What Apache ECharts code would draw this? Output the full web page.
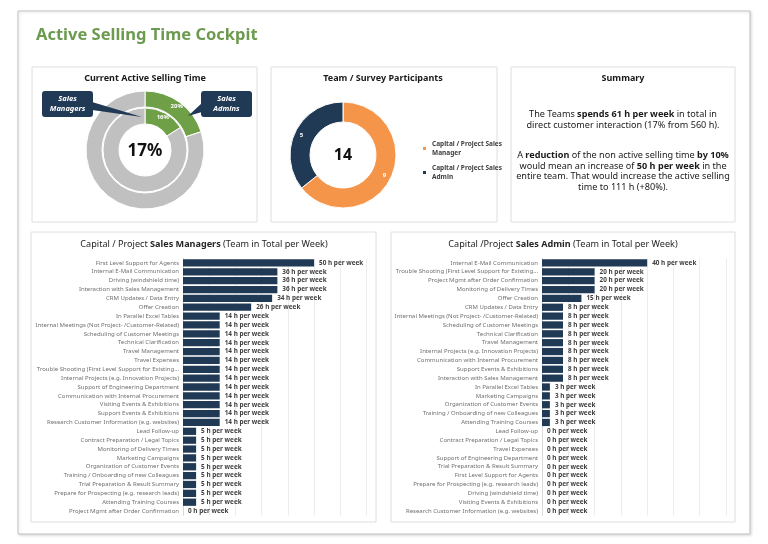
<!DOCTYPE html>
<html>
<head>
<meta charset="utf-8">
<script src="https://cdn.jsdelivr.net/npm/echarts@6/dist/echarts.min.js"></script>
<style>
html,body{margin:0;padding:0;background:#fff;}
#main{width:768px;height:544px;}
</style>
</head>
<body>
<div id="main"></div>
<script>
// ---------- DATA ----------
const pageTitle = 'Active Selling Time Cockpit';
const activeOverall = '17%';
const ringAdmins = [20, 80];     // outer ring: active %, rest
const ringManagers = [16, 84];   // inner ring: active %, rest
const participantNames = ['Capital / Project Sales Manager', 'Capital / Project Sales Admin'];
const participantCounts = [9, 5];
const participantTotal = '14';

const managerCats = [
  'First Level Support for Agents','Internal E-Mail Communication','Driving (windshield time)',
  'Interaction with Sales Management','CRM Updates / Data Entry','Offer Creation',
  'In Parallel Excel Tables','Internal Meetings (Not Project- /Customer-Related)',
  'Scheduling of Customer Meetings','Technical Clarification','Travel Management',
  'Travel Expenses','Trouble Shooting (First Level Support for Existing...',
  'Internal Projects (e.g. Innovation Projects)','Support of Engineering Department',
  'Communication with Internal Procurement','Visiting Events & Exhibitions',
  'Support Events & Exhibitions','Research Customer Information (e.g. websites)',
  'Lead Follow-up','Contract Preparation / Legal Topics','Monitoring of Delivery Times',
  'Marketing Campaigns','Organization of Customer Events','Training / Onboarding of new Colleagues',
  'Trial Preparation & Result Summary','Prepare for Prospecting (e.g. research leads)',
  'Attending Training Courses','Project Mgmt after Order Confirmation'
];
const managerHours = [50,36,36,36,34,26,14,14,14,14,14,14,14,14,14,14,14,14,14,5,5,5,5,5,5,5,5,5,0];

const adminCats = [
  'Internal E-Mail Communication','Trouble Shooting (First Level Support for Existing...',
  'Project Mgmt after Order Confirmation','Monitoring of Delivery Times','Offer Creation',
  'CRM Updates / Data Entry','Internal Meetings (Not Project- /Customer-Related)',
  'Scheduling of Customer Meetings','Technical Clarification','Travel Management',
  'Internal Projects (e.g. Innovation Projects)','Communication with Internal Procurement',
  'Support Events & Exhibitions','Interaction with Sales Management','In Parallel Excel Tables',
  'Marketing Campaigns','Organization of Customer Events','Training / Onboarding of new Colleagues',
  'Attending Training Courses','Lead Follow-up','Contract Preparation / Legal Topics',
  'Travel Expenses','Support of Engineering Department','Trial Preparation & Result Summary',
  'First Level Support for Agents','Prepare for Prospecting (e.g. research leads)',
  'Driving (windshield time)','Visiting Events & Exhibitions','Research Customer Information (e.g. websites)'
];
const adminHours = [40,20,20,20,15,8,8,8,8,8,8,8,8,8,3,3,3,3,3,0,0,0,0,0,0,0,0,0,0];

const xMax = 70, xStep = 10;

// ---------- STYLE ----------
const FONT = '"Noto Sans", "Open Sans", sans-serif';
const GREEN = '#6f9f47';
const TITLE_GREEN = '#6c9a4f';
const GRAY = '#c0c0c0';
const NAVY = '#203a56';
const ORANGE = '#f5954a';

const chart = echarts.init(document.getElementById('main'), null, {renderer:'canvas'});

function panel(x, y, w, h) {
  return {type:'rect', shape:{x:x, y:y, width:w, height:h},
    style:{fill:'#fff', stroke:'#dedede', lineWidth:1}, z:-5};
}
function txt(x, y, text, opt) {
  return {type:'text', x:x, y:y, z:10, style:Object.assign({text:text, font:'bold 9px ' + FONT,
    fill:'#1a1a1a', textAlign:'center', textVerticalAlign:'middle'}, opt || {})};
}
function callout(bx, by, bw, bh, tri, label) {
  return [
    {type:'polygon', z:20, shape:{points:tri}, style:{fill:NAVY}},
    {type:'rect', z:20, shape:{x:bx, y:by, width:bw, height:bh, r:3}, style:{fill:NAVY}},
    {type:'text', z:21, x:bx + bw/2, y:by + bh/2, style:{text:label, fill:'#fff',
      font:'italic bold 7.5px ' + FONT, textAlign:'center', textVerticalAlign:'middle', lineHeight:10}}
  ];
}
function richPara(x, y, text) {
  return {type:'text', x:x, y:y, z:10, style:{
    text:text, textAlign:'center', textVerticalAlign:'middle', fill:'#1a1a1a',
    rich:{
      n:{font:'9.1px ' + FONT, fill:'#1a1a1a', lineHeight:10.8},
      b:{font:'bold 9.1px ' + FONT, fill:'#1a1a1a', lineHeight:10.8}
    }}};
}

const labelPct = function(p){ return p.dataIndex === 0 ? p.value + '%' : ''; };
function barLabel(p){ return p.value + ' h per week'; }

const graphics = [
  {type:'rect', shape:{x:18, y:11, width:732, height:523}, z:-10,
    style:{fill:'#fff', stroke:'#c4c4c4', lineWidth:1, shadowBlur:3, shadowColor:'rgba(0,0,0,0.15)', shadowOffsetX:1, shadowOffsetY:1}},
  panel(32, 67, 225, 155),
  panel(271, 67, 226, 155),
  panel(511, 67, 224, 155),
  panel(31, 232, 345, 290),
  panel(391, 232, 344, 290),
  txt(36, 35, pageTitle, {font:'bold 16.5px ' + FONT, fill:TITLE_GREEN, textAlign:'left'}),
  txt(145, 78, 'Current Active Selling Time'),
  txt(383, 78, 'Team / Survey Participants'),
  txt(623, 78, 'Summary'),
  txt(145, 151, activeOverall, {font:'bold 17px ' + FONT, fill:'#111'}),
  txt(343, 155, participantTotal, {font:'bold 16px ' + FONT, fill:'#111'}),
  richPara(623, 120,
    '{n|The Teams }{b|spends 61 h per week}{n| in total in}\n' +
    '{n|direct customer interaction (17% from 560 h).}'),
  richPara(623, 171.5,
    '{n|A }{b|reduction}{n| of the non active selling time }{b|by 10%}\n' +
    '{n|would mean an increase of }{b|50 h per week}{n| in the}\n' +
    '{n|entire team. That would increase the active selling}\n' +
    '{n|time to 111 h (+80%).}'),
  {type:'text', x:204, y:244, z:10, style:{
    text:'{n|Capital / Project }{b|Sales Managers}{n| (Team in Total per Week)}',
    textAlign:'center', textVerticalAlign:'middle',
    rich:{n:{font:'9.1px ' + FONT, fill:'#262626'}, b:{font:'bold 9.1px ' + FONT, fill:'#262626'}}}},
  {type:'text', x:563, y:244, z:10, style:{
    text:'{n|Capital /Project }{b|Sales Admin}{n| (Team in Total per Week)}',
    textAlign:'center', textVerticalAlign:'middle',
    rich:{n:{font:'9.1px ' + FONT, fill:'#262626'}, b:{font:'bold 9.1px ' + FONT, fill:'#262626'}}}}
].concat(
  callout(42, 91, 51, 26, [[92,102],[92,110],[142,117]], 'Sales\nManagers'),
  callout(201, 91, 51, 26, [[202,103],[202,112],[188,116]], 'Sales\nAdmins')
);

function barAxes(idx, cats) {
  return {
    x: {gridIndex:idx, type:'value', min:0, max:xMax, interval:xStep,
      axisLabel:{show:false}, axisLine:{show:false}, axisTick:{show:false},
      splitLine:{show:true, lineStyle:{color:'#ececec', width:1}}},
    y: {gridIndex:idx, type:'category', data:cats, inverse:true,
      axisTick:{show:false}, axisLine:{show:true, lineStyle:{color:'#d9d9d9'}},
      axisLabel:{fontSize:6, color:'#707070', fontFamily:FONT, margin:4}}
  };
}
const a0 = barAxes(0, managerCats), a1 = barAxes(1, adminCats);

function barSeries(idx, vals) {
  return {type:'bar', xAxisIndex:idx, yAxisIndex:idx, data:vals, barCategoryGap:'18%',
    itemStyle:{color:NAVY}, silent:true,
    label:{show:true, position:'right', distance:5, formatter:barLabel,
      fontSize:6.4, fontWeight:'bold', color:'#3f3f3f', fontFamily:FONT}};
}

const option = {
  animation:false,
  textStyle:{fontFamily:FONT},
  grid:[
    {left:183, width:183.5, top:258.5, height:257, containLabel:false},
    {left:542, width:184, top:258.5, height:257, containLabel:false}
  ],
  xAxis:[a0.x, a1.x],
  yAxis:[a0.y, a1.y],
  legend:{
    orient:'vertical', left:416, top:134, itemWidth:5, itemHeight:5, itemGap:5,
    icon:'rect', data:participantNames,
    formatter:function(n){ return n.replace(' Sales ', ' Sales\n'); },
    textStyle:{fontSize:6.5, color:'#404040', fontFamily:FONT, lineHeight:9.5, fontWeight:'bold'}
  },
  series:[
    {type:'pie', name:'admins', center:[145,150], radius:[43,59], startAngle:90, silent:true,
      itemStyle:{borderColor:'#fff', borderWidth:1},
      label:{show:true, position:'inside', formatter:labelPct, color:'#fff', fontSize:6, fontWeight:'bold'},
      labelLine:{show:false},
      data:[{value:ringAdmins[0], itemStyle:{color:GREEN}}, {value:ringAdmins[1], itemStyle:{color:GRAY}}]},
    {type:'pie', name:'managers', center:[145,150], radius:[26,42], startAngle:90, silent:true,
      itemStyle:{borderColor:'#fff', borderWidth:1},
      label:{show:true, position:'inside', formatter:labelPct, color:'#fff', fontSize:6, fontWeight:'bold'},
      labelLine:{show:false},
      data:[{value:ringManagers[0], itemStyle:{color:GREEN}}, {value:ringManagers[1], itemStyle:{color:GRAY}}]},
    {type:'pie', name:'participants', center:[343,155], radius:[33,53], startAngle:90, silent:true,
      itemStyle:{borderColor:'#fff', borderWidth:1},
      label:{show:true, position:'inside', formatter:'{c}', color:'#fff', fontSize:6, fontWeight:'bold'},
      labelLine:{show:false},
      data:[{name:participantNames[0], value:participantCounts[0], itemStyle:{color:ORANGE}},
            {name:participantNames[1], value:participantCounts[1], itemStyle:{color:NAVY}}]},
    barSeries(0, managerHours),
    barSeries(1, adminHours)
  ],
  graphic:{elements:graphics}
};
chart.setOption(option);
</script>
</body>
</html>
